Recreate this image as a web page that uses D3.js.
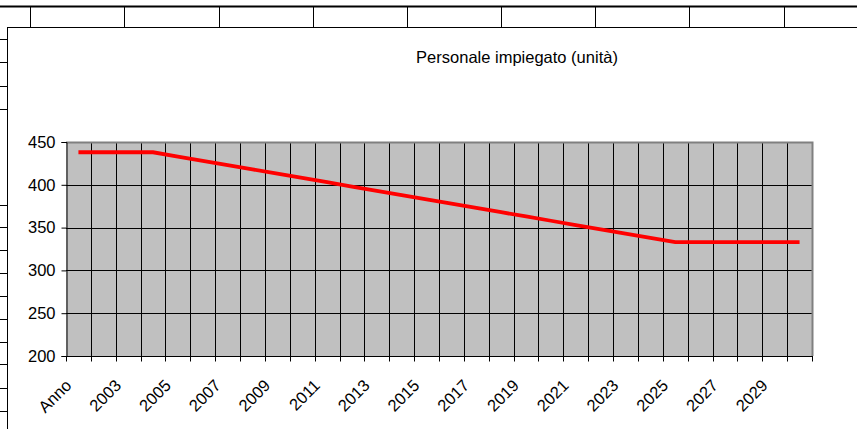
<!DOCTYPE html>
<html><head><meta charset="utf-8">
<script src="https://cdn.jsdelivr.net/npm/d3@7"></script>
<style>html,body{margin:0;padding:0;background:#fff;overflow:hidden}</style>
</head><body>
<svg id="c" width="857" height="429"></svg>
<script>
const categories = ["Anno","2002","2003","2004","2005","2006","2007","2008","2009","2010","2011","2012","2013","2014","2015","2016","2017","2018","2019","2020","2021","2022","2023","2024","2025","2026","2027","2028","2029","2030"];
const personale = [438,438,438,438,433,428,423,418,413,408,403,398,393,388,383,378,373,368,363,358,353,348,343,338,333,333,333,333,333,333];
const yTicks = [200,250,300,350,400,450];
const title = "Personale impiegato (unità)";
// spreadsheet background lines
const colLines = [30,124,219,313,407,501,595,689,784];
const rowLines = [39,62,86,109,205,227,250,273,296,319,342,364,388,411];

const svg = d3.select("#c");
const font = "Liberation Sans, Arial, sans-serif";
const fs = 16.5;

// spreadsheet grid
svg.append("line").attr("x1",0).attr("x2",857).attr("y1",6.5).attr("y2",6.5).attr("stroke","#000").attr("stroke-width",2);
svg.selectAll(".col").data(colLines).join("line")
  .attr("x1",d=>d+0.5).attr("x2",d=>d+0.5).attr("y1",7).attr("y2",27).attr("stroke","#000");
svg.selectAll(".row").data(rowLines).join("line")
  .attr("x1",0).attr("x2",7).attr("y1",d=>d+0.5).attr("y2",d=>d+0.5).attr("stroke","#000");
// chart box
svg.append("rect").attr("x",7.5).attr("y",27.5).attr("width",900).attr("height",500).attr("fill","#fff").attr("stroke","#000");

const x0=66, x1=812, yT=142, yB=356;
const x = d3.scaleBand().domain(categories).range([x0,x1]).padding(0);
const y = d3.scaleLinear().domain([200,450]).range([yB,yT]);

svg.append("rect").attr("x",x0).attr("y",yT).attr("width",x1-x0).attr("height",yB-yT).attr("fill","#C0C0C0");

// vertical gridlines at category boundaries
const bounds = categories.slice(1).map(c=>x(c));
svg.append("g").selectAll("line").data(bounds).join("line")
  .attr("x1",d=>Math.round(d)+0.5).attr("x2",d=>Math.round(d)+0.5)
  .attr("y1",yT).attr("y2",yB).attr("stroke","#000");
// horizontal gridlines
svg.append("g").selectAll("line").data(yTicks.slice(1,-1)).join("line")
  .attr("x1",x0).attr("x2",x1).attr("y1",d=>Math.round(y(d))+0.5).attr("y2",d=>Math.round(y(d))+0.5).attr("stroke","#000");
// plot border top/right gray
svg.append("path").attr("d",`M${x0},${yT+0.5}H${x1+0.5}V${yB}`).attr("fill","none").attr("stroke","#808080").attr("stroke-width",2);

// y axis
const ya = svg.append("g").attr("transform",`translate(${x0+0.5},0)`)
  .call(d3.axisLeft(y).tickValues(yTicks).tickSize(5).tickPadding(6));
ya.attr("font-size",fs).attr("font-family",font);
ya.select(".domain").attr("stroke","#000");
ya.selectAll("line").attr("stroke","#000");
ya.selectAll("text").attr("font-family",font).attr("font-size",fs).attr("fill","#000");

// x axis
const xa = svg.append("g").attr("transform",`translate(0,${yB+0.5})`);
xa.append("line").attr("x1",x0).attr("x2",x1+1).attr("stroke","#000");
xa.selectAll(".tk").data([x0,...bounds,x1]).join("line")
  .attr("x1",d=>Math.round(d)+0.5).attr("x2",d=>Math.round(d)+0.5).attr("y1",0).attr("y2",5).attr("stroke","#000");
xa.selectAll("text").data(categories.filter((c,i)=>i%2===0)).join("text")
  .attr("transform",d=>`translate(${x(d)+x.bandwidth()/2-6},${386-yB})rotate(-45)`)
  .attr("text-anchor","end").attr("font-family",font).attr("font-size",fs).attr("fill","#000")
  .text(d=>d);

// line
const line = d3.line().x((d,i)=>x(categories[i])+x.bandwidth()/2).y(d=>y(d));
svg.append("path").datum(personale).attr("d",line).attr("fill","none").attr("stroke","#FF0000").attr("stroke-width",3.8);

// title
svg.append("text").attr("x",517).attr("y",63).attr("text-anchor","middle")
  .attr("font-family",font).attr("font-size",fs).attr("fill","#000").text(title);
</script>
</body></html>
